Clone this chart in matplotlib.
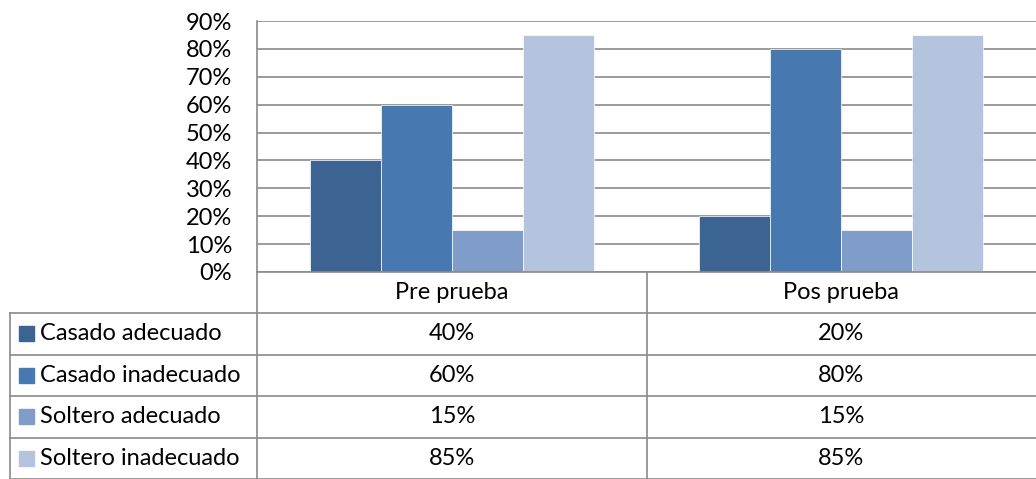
import matplotlib.pyplot as plt
from matplotlib.patches import Rectangle
import numpy as np

plt.rcParams['font.family'] = ['Lato', 'DejaVu Sans']

categories = ["Pre prueba", "Pos prueba"]
series = ["Casado adecuado", "Casado inadecuado", "Soltero adecuado", "Soltero inadecuado"]
values = [
    [40, 20],
    [60, 80],
    [15, 15],
    [85, 85],
]
colors = ["#3b6493", "#4878b0", "#7f9dc8", "#b4c4df"]
yticks = [0, 10, 20, 30, 40, 50, 60, 70, 80, 90]

W, H = 1036, 479
line_col = "#8a8a8a"
fs = 17

fig = plt.figure(figsize=(W / 100, H / 100), dpi=100)

# plot area in pixels
left, right, top, bottom = 257, 1036, 21, 272
ax = fig.add_axes([left / W, 1 - bottom / H, (right - left) / W, (bottom - top) / H])

n = len(series)
x = np.arange(len(categories))
bw = 0.73 / n
for i, (name, vals) in enumerate(zip(series, values)):
    ax.bar(x + (i - (n - 1) / 2) * bw, vals, width=bw, color=colors[i],
           edgecolor="white", linewidth=0.5, zorder=3)

ax.set_xlim(-0.5, len(categories) - 0.5)
ax.set_ylim(0, 90)
ax.set_yticks(yticks)
ax.set_yticklabels([f"{v}%" for v in yticks], fontsize=fs)
ax.set_xticks([])
ax.yaxis.grid(True, color=line_col, linewidth=1.2, zorder=0)
ax.tick_params(axis='y', length=0, pad=18)
for s in ["top", "right", "bottom"]:
    ax.spines[s].set_visible(False)
ax.spines["left"].set_color(line_col)
ax.spines["left"].set_linewidth(1.2)

# data table below the plot, drawn in pixel space
tax = fig.add_axes([0, 0, 1, (H - bottom) / H])
tax.set_xlim(0, W)
tax.set_ylim(H, bottom)
tax.axis("off")

header_h = 41
row_h = 41.5
col_edges = [left, (left + right) / 2, right]
tbl_left = 10

y0 = bottom
tax.plot([left, W], [y0, y0], color=line_col, lw=1.2, clip_on=False)
for c in range(len(categories)):
    xc = (col_edges[c] + col_edges[c + 1]) / 2
    tax.text(xc, y0 + header_h / 2, categories[c], ha="center", va="center", fontsize=fs)

ys = [y0 + header_h + k * row_h for k in range(n + 1)]
for yy in ys:
    tax.plot([tbl_left, W], [yy, yy], color=line_col, lw=1.2)
tax.plot([tbl_left, tbl_left], [ys[0], H + 5], color=line_col, lw=1.2)
tax.plot([left, left], [y0, H + 5], color=line_col, lw=1.2)
tax.plot([col_edges[1], col_edges[1]], [y0, H + 5], color=line_col, lw=1.2)

for r in range(n):
    yc = ys[r] + row_h / 2
    tax.add_patch(Rectangle((19, yc - 7.5), 15, 15, color=colors[r]))
    tax.text(40, yc, series[r], ha="left", va="center", fontsize=fs)
    for c in range(len(categories)):
        xc = (col_edges[c] + col_edges[c + 1]) / 2
        tax.text(xc, yc, f"{values[r][c]}%", ha="center", va="center", fontsize=fs)

fig.savefig("out.png", dpi=100)
